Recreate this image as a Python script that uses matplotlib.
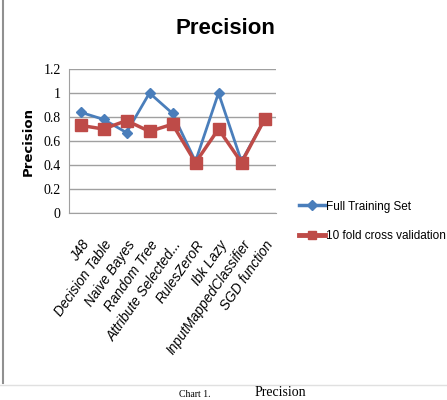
import matplotlib.pyplot as plt
import matplotlib.lines as mlines

# data
categories = ['J48', 'Decision Table', 'Naive Bayes', 'Random Tree', 'Attribute Selected...',
              'RulesZeroR', 'Ibk Lazy', 'InputMappedClassifier', 'SGD function']
full_training = [0.84, 0.78, 0.67, 1.0, 0.83, 0.43, 1.0, 0.43, 0.78]
cross_validation = [0.73, 0.70, 0.77, 0.68, 0.74, 0.42, 0.70, 0.42, 0.78]
yticks = [0, 0.2, 0.4, 0.6, 0.8, 1, 1.2]
ytick_labels = ['0', '0.2', '0.4', '0.6', '0.8', '1', '1.2']

sans = ['Liberation Sans', 'DejaVu Sans']
serif = ['Liberation Serif', 'DejaVu Serif']

fig = plt.figure(figsize=(4.47, 4.0), dpi=100)
ax = fig.add_axes([69/447, 1-213/400, 207/447, 144/400])

x = list(range(len(categories)))
ax.plot(x, full_training, color='#4a7ebb', marker='D', markersize=5, linewidth=2, label='Full Training Set')
ax.plot(x, cross_validation, color='#be4b48', marker='s', markersize=8, linewidth=2.5, label='10 fold cross validation')

ax.set_xlim(-0.5, len(categories) - 0.5)
ax.set_ylim(0, 1.2)
ax.set_yticks(yticks)
ax.set_yticklabels(ytick_labels, family=serif, fontsize=10)
ax.set_xticks(x)
ax.set_xticklabels(categories, rotation=55, ha='right', rotation_mode='anchor',
                   family=sans, style='italic', fontsize=9.8)
ax.tick_params(axis='y', length=0, pad=6)
ax.tick_params(axis='x', length=0, pad=18)
ax.grid(axis='y', color='#a0a0a0', linewidth=1)
ax.set_axisbelow(True)
for s in ['top', 'right']:
    ax.spines[s].set_visible(False)
for s in ['left', 'bottom']:
    ax.spines[s].set_color('#a0a0a0')

ax.set_ylabel('Precision', family=['DejaVu Sans'], fontweight='bold', fontsize=9.5, labelpad=6)

fig.text(0.505, 0.93, 'Precision', family=sans, fontweight='bold', fontsize=16, ha='center', va='center')

# legend
h1 = mlines.Line2D([], [], color='#4a7ebb', marker='D', markersize=5, linewidth=2.5)
h2 = mlines.Line2D([], [], color='#be4b48', marker='s', markersize=6, linewidth=3.5)
fig.legend([h1, h2], ['Full Training Set', '10 fold cross validation'], loc='upper left',
           bbox_to_anchor=(288/447, 1-190/400), frameon=False, prop={'family': sans, 'size': 8.5},
           handlelength=2.2, handletextpad=0.1, labelspacing=1.5)

# page frame and caption
fig.add_artist(mlines.Line2D([3/447, 3/447], [1-383/400, 1], color='#909090', linewidth=1.5))
fig.add_artist(mlines.Line2D([0, 1], [1-385/400, 1-385/400], color='#e0e0e0', linewidth=1))
fig.text(195/447, 0.003, 'Chart 1.', family=serif, fontsize=7, ha='center', va='bottom')
fig.text(280/447, 0.003, 'Precision', family=serif, fontsize=10, ha='center', va='bottom')

fig.savefig('out.png', dpi=100)
